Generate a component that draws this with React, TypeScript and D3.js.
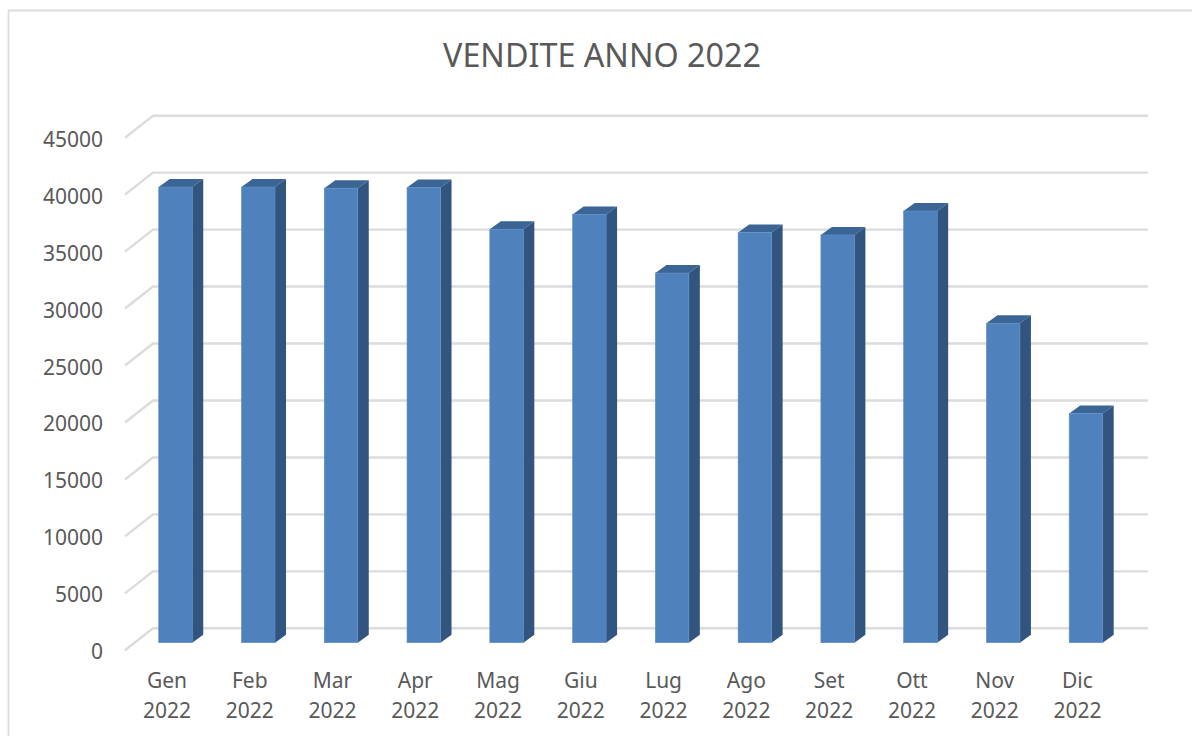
import React from "react";
import * as d3 from "d3";

const months = ["Gen", "Feb", "Mar", "Apr", "Mag", "Giu", "Lug", "Ago", "Set", "Ott", "Nov", "Dic"];
const yearLabels = ["2022", "2022", "2022", "2022", "2022", "2022", "2022", "2022", "2022", "2022", "2022", "2022"];
const sales = [40000, 40000, 39900, 39970, 36300, 37600, 32450, 36000, 35800, 37900, 28050, 20120];
const ticks = [0, 5000, 10000, 15000, 20000, 25000, 30000, 35000, 40000, 45000];
const title = "VENDITE ANNO 2022";

const FONT = "'Noto Sans', 'Open Sans', sans-serif";
const TEXT = "#595959";
const GRID = "#dcdcdc";

// y scale for the back wall; bars and the front edge are the same scale shifted
const yBack = d3.scaleLinear().domain([0, 45000]).range([628.3, 115.7]);
const wallDepth = { dx: 28, dy: 22 };
const barFront = { dx: 0, dy: 14.4 };
const barDepth = { dx: 11, dy: 8 };
const x = d3.scaleBand<string>().domain(months).range([134.1, 134.1 + 82.77 * 12]).paddingInner(0).paddingOuter(0);
const BAR_W = 33.5;

export default function App() {
  return (
    <svg width={1192} height={736} style={{ position: "absolute", left: 0, top: 0, background: "#fff" }}>
      <path d="M1192,10.5 H8.5 V736" fill="none" stroke={GRID} strokeWidth={1.8} />
      <text x={602} y={66.5} textAnchor="middle" fontFamily={FONT} fontSize={32.3} fill={TEXT}>{title}</text>

      {ticks.map((t) => {
        const y = yBack(t);
        return (
          <g key={t}>
            <path d={`M${153 - wallDepth.dx},${y + wallDepth.dy} L153,${y} H1148`} fill="none" stroke={GRID} strokeWidth={2.4} />
            <text x={103} y={y + 31} textAnchor="end" fontFamily={FONT} fontSize={21} fill={TEXT}>{t}</text>
          </g>
        );
      })}

      {months.map((m, i) => {
        const x0 = x(m)! + (x.bandwidth() - BAR_W) / 2;
        const x1 = x0 + BAR_W;
        const top = yBack(sales[i]) + barFront.dy;
        const bottom = yBack(0) + barFront.dy;
        const { dx, dy } = barDepth;
        return (
          <g key={m}>
            <path d={`M${x0},${top} L${x0 + dx},${top - dy} H${x1 + dx} L${x1},${top} Z`} fill="#3a6595" />
            <path d={`M${x1},${top} L${x1 + dx},${top - dy} V${bottom - dy} L${x1},${bottom} Z`} fill="#32557f" />
            <rect x={x0} y={top} width={BAR_W} height={bottom - top} fill="#4f81bd" stroke="#5f8dc6" strokeWidth={0.6} />
            <text x={x0 + BAR_W / 2 - 8.5} y={688} textAnchor="middle" fontFamily={FONT} fontSize={21} fill={TEXT}>{m}</text>
            <text x={x0 + BAR_W / 2 - 8.5} y={718} textAnchor="middle" fontFamily={FONT} fontSize={21} fill={TEXT}>{yearLabels[i]}</text>
          </g>
        );
      })}
    </svg>
  );
}
